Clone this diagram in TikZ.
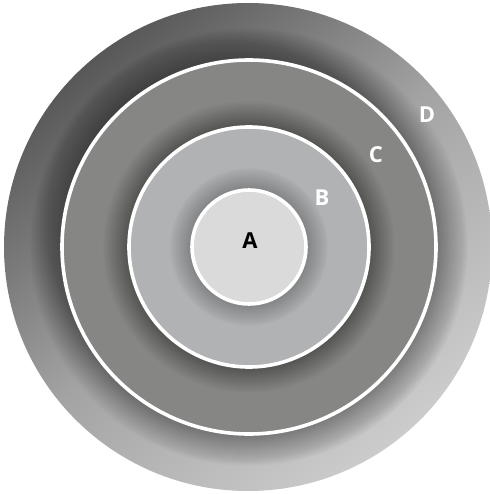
\documentclass[tikz,border=0pt]{standalone}
\usepackage{fontspec}
\setmainfont{Open Sans}
\definecolor{ringC}{HTML}{868684}
\definecolor{ringB}{HTML}{B1B2B4}
\definecolor{ringA}{HTML}{DADADA}
\definecolor{dDark}{HTML}{4A4A4A}
\definecolor{dLight}{HTML}{D2D2D2}
\tikzset{
  disc/.style={circle, inner sep=0pt, outer sep=0pt, draw=white, line width=3.6pt},
  lbl/.style={font=\fontsize{22}{22}\selectfont\bfseries, text=white, inner sep=0pt},
}
\begin{document}
\begin{tikzpicture}[x=1pt,y=-1pt]
\useasboundingbox (0,0) rectangle (489,494);
\fill[white] (0,0) rectangle (489,494);
\coordinate (O) at (249,247);
% outer disc D
\begin{scope}
  \clip (248,247) circle (244);
  \shade[top color=dDark, bottom color=dLight, middle color=gray!72, shading angle=40] (-40,-40) rectangle (530,530);
\end{scope}
% shadow around C
\foreach \k in {0,...,30} {
  \fill[black, opacity=0.012] (O) circle ({189+30-\k});
}
\node[disc, fill=ringC, minimum size=374pt] (C) at (O) {};
% shadow around B
\foreach \k in {0,...,24} {
  \fill[black, opacity=0.010] (O) circle ({122+24-\k});
}
\node[disc, fill=ringB, minimum size=240pt] (B) at (O) {};
% shadow around A
\foreach \k in {0,...,20} {
  \fill[black, opacity=0.013] (O) circle ({59+20-\k});
}
\node[disc, fill=ringA, minimum size=114pt] (A) at (O) {};
% labels
\node[lbl, text=black] (lA) at (250,241) {A};
\node[lbl] (lB) at (322,198) {B};
\node[lbl] (lC) at (376,155) {C};
\node[lbl] (lD) at (427,115) {D};
\end{tikzpicture}
\end{document}
